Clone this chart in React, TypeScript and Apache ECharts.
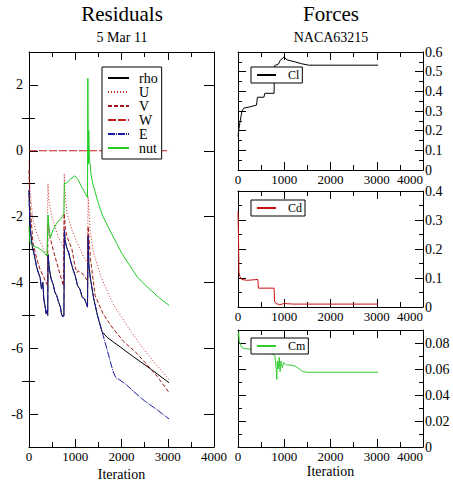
import React, { useEffect, useRef } from "react";
import * as echarts from "echarts";

type P = [number, number];

const FONT = "'Liberation Serif', 'Times New Roman', serif";

const residualNames = ["rho", "U", "V", "W", "E", "nut"];
const xTicks = [0, 1000, 2000, 3000, 4000];
const residualMajorTicks = [-8, -6, -4, -2, 0, 2];
const residualMinorTicks = [-7, -5, -3, -1, 1];

// E residual (blue)
const E: P[] = [
  [0, -1.2], [8, -1.7], [30, -2.4], [60, -2.8], [86, -3.0], [120, -3.2], [160, -3.5],
  [200, -3.7], [240, -3.85], [270, -4.2], [300, -4.0], [320, -4.5], [350, -4.75],
  [370, -4.95], [390, -4.85], [405, -5.0], [412, -3.15], [440, -3.6], [480, -3.9],
  [520, -4.05], [560, -4.3], [600, -4.4], [640, -4.6], [680, -4.75], [700, -4.95],
  [730, -5.05], [755, -5.0], [765, -2.4], [780, -2.7], [800, -2.85], [830, -3.0],
  [860, -3.1], [900, -3.35], [950, -3.6], [1000, -3.8], [1050, -4.1], [1100, -4.2],
  [1150, -4.45], [1200, -4.5], [1240, -4.65], [1265, -4.75], [1278, -2.6], [1295, -3.5],
  [1330, -3.9], [1400, -4.5], [1480, -5.0], [1580, -5.5], [1700, -6.1], [1816, -6.7],
  [1880, -6.9], [1950, -6.95], [2000, -7.0], [2100, -7.1], [2250, -7.3], [2500, -7.6],
  [2750, -7.85], [3030, -8.15],
];
// rho follows E until it separates
const rhoTail: P[] = [
  [1580, -5.5], [1690, -5.67], [1816, -5.8], [2250, -6.25], [2650, -6.65], [3030, -7.05],
];
const rho: P[] = [...E.filter((p) => p[0] < 1580), ...rhoTail];

const U: P[] = [
  [0, -0.3], [10, -0.8], [22, -1.2], [50, -1.6], [86, -2.1], [150, -2.45], [238, -2.75],
  [320, -3.0], [389, -3.2], [410, -1.0], [430, -1.5], [497, -2.0], [560, -2.3], [627, -2.6],
  [735, -2.9], [755, -2.95], [762, -0.7], [780, -1.3], [820, -1.9], [950, -2.5],
  [1170, -3.2], [1265, -3.4], [1278, -1.4], [1320, -2.4], [1380, -3.0], [1450, -3.35],
  [1550, -3.8], [1700, -4.3], [1816, -4.65], [2000, -5.05], [2160, -5.4], [2465, -6.0],
  [2750, -6.5], [3030, -6.95],
];

const V: P[] = [
  [0, -0.6], [10, -1.2], [22, -1.65], [86, -2.8], [170, -3.3], [240, -3.6], [320, -3.85],
  [400, -4.1], [410, -2.2], [450, -2.6], [520, -3.0], [600, -3.4], [680, -3.8],
  [745, -4.1], [760, -1.9], [790, -2.4], [820, -2.6], [930, -3.0], [1000, -3.55],
  [1040, -3.7], [1060, -3.65], [1170, -3.75], [1265, -3.95], [1278, -2.3], [1330, -3.3],
  [1430, -4.4], [1600, -4.95], [1816, -5.4], [2050, -5.8], [2330, -6.15], [2770, -6.85],
  [3030, -7.35],
];

const W: P[] = [[0, 0], [3030, 0]];

const nut: P[] = [
  [0, -2.3], [10, -2.6], [25, -2.8], [100, -2.9], [195, -2.95], [300, -3.05], [390, -3.2],
  [412, -1.95], [430, -2.3], [460, -2.65], [520, -2.4], [600, -2.2], [700, -2.05],
  [755, -1.9], [765, -0.97], [800, -1.0], [880, -0.88], [990, -0.76], [1060, -0.88],
  [1170, -1.18], [1265, -1.42], [1272, 2.2], [1282, -0.4], [1292, 0.62], [1305, -0.2],
  [1340, -0.7], [1380, -1.0], [1420, -1.2], [1500, -1.6], [1600, -2.0], [1816, -2.6],
  [2000, -3.1], [2160, -3.45], [2350, -3.85], [2530, -4.1], [2800, -4.45], [3030, -4.7],
];

const Cl: P[] = [
  [0, 0.17], [10, 0.19], [20, 0.21], [40, 0.24], [86, 0.3], [130, 0.315], [238, 0.32],
  [400, 0.33], [420, 0.37], [560, 0.37], [580, 0.39], [780, 0.39], [790, 0.53],
  [880, 0.54], [910, 0.557], [995, 0.575], [1060, 0.56], [1230, 0.55], [1380, 0.54],
  [1530, 0.533], [3030, 0.533],
];

const Cd: P[] = [
  [0, 0.33], [10, 0.25], [20, 0.12], [40, 0.105], [80, 0.095], [200, 0.092], [430, 0.095],
  [440, 0.065], [780, 0.065], [790, 0.02], [820, 0.012], [900, 0.008], [1000, 0.012],
  [1200, 0.01], [1500, 0.01], [3030, 0.01],
];

const Cm: P[] = [
  [0, 0.085], [15, 0.088], [25, 0.082], [60, 0.078], [100, 0.076], [300, 0.075],
  [600, 0.073], [780, 0.071], [800, 0.07], [820, 0.062], [840, 0.052], [850, 0.066],
  [870, 0.06], [890, 0.069], [910, 0.058], [930, 0.066], [960, 0.061], [990, 0.065],
  [1050, 0.063], [1150, 0.063], [1250, 0.062], [1330, 0.06], [1400, 0.058], [1500, 0.0575],
  [3030, 0.0575],
];

const black = "#000";
const txt = { fontFamily: FONT, color: black };

function xAxisPair(gridIndex: number, name?: string, maxRight = false) {
  const base = {
    type: "value",
    gridIndex,
    min: xTicks[0],
    max: xTicks[xTicks.length - 1],
    interval: 1000,
    axisLine: { show: true, onZero: false, lineStyle: { color: black, width: 1 } },
    axisTick: { show: true, inside: true, length: 8, lineStyle: { color: black } },
    minorTick: { show: true, splitNumber: 2, length: 5, lineStyle: { color: black } },
    splitLine: { show: false },
    minorSplitLine: { show: false },
  };
  return [
    {
      ...base,
      position: "bottom",
      axisLabel: {
        ...txt,
        fontSize: 13,
        lineHeight: 11,
        margin: 4,
        formatter: (v: number) => String(v),
        ...(maxRight ? { alignMaxLabel: "right" } : {}),
      },
      name: name || "",
      nameLocation: "middle",
      nameGap: 17,
      nameTextStyle: { ...txt, fontSize: 14 },
    },
    { ...base, position: "top", axisLabel: { show: false } },
  ];
}

function forceYAxes(gridIndex: number, max: number, interval: number, hideMax: boolean) {
  const base = {
    type: "value",
    gridIndex,
    min: 0,
    max,
    interval,
    axisLine: { show: true, onZero: false, lineStyle: { color: black, width: 1 } },
    axisTick: { show: true, inside: true, length: 8, lineStyle: { color: black } },
    minorTick: { show: true, splitNumber: 2, length: 4, lineStyle: { color: black } },
    splitLine: { show: false },
    minorSplitLine: { show: false },
  };
  return [
    {
      ...base,
      position: "right",
      axisLabel: { ...txt, fontSize: 14, margin: 2, showMaxLabel: !hideMax, hideOverlap: false },
    },
    { ...base, position: "left", axisLabel: { show: false } },
  ];
}

function residualYAxes() {
  const base = {
    type: "value",
    gridIndex: 0,
    min: -9,
    max: 3,
    interval: 1,
    splitLine: { show: false },
    minorTick: { show: false },
  };
  return [
    {
      ...base,
      position: "left",
      axisLine: { show: true, onZero: false, lineStyle: { color: black, width: 1 } },
      axisTick: { show: true, inside: true, length: 9, customValues: residualMajorTicks, lineStyle: { color: black } },
      axisLabel: {
        ...txt,
        fontSize: 14,
        margin: 6,
        customValues: residualMajorTicks,
        formatter: (v: number) => (Math.round(v) % 2 === 0 ? String(v) : ""),
      },
    },
    {
      ...base,
      position: "left",
      axisLine: { show: false },
      axisTick: { show: true, inside: true, length: 6, customValues: residualMinorTicks, lineStyle: { color: black } },
      axisLabel: { show: false },
    },
    {
      ...base,
      position: "right",
      axisLine: { show: true, onZero: false, lineStyle: { color: black, width: 1 } },
      axisTick: { show: true, inside: true, length: 10, customValues: residualMajorTicks, lineStyle: { color: black } },
      axisLabel: { show: false },
    },
    {
      ...base,
      position: "right",
      axisLine: { show: false },
      axisTick: { show: true, inside: true, length: 7, customValues: residualMinorTicks, lineStyle: { color: black } },
      axisLabel: { show: false },
    },
  ];
}

function line(name: string, data: P[], color: string, type: any, xi: number, yi: number, z = 2) {
  return {
    type: "line",
    name,
    data,
    xAxisIndex: xi,
    yAxisIndex: yi,
    showSymbol: false,
    symbol: "none",
    legendIcon: "none",
    z,
    lineStyle: { color, width: 1, type },
    itemStyle: { color },
    emphasis: { disabled: true },
  };
}

const legendCommon = {
  orient: "vertical",
  itemGap: 0,
  itemHeight: 8,
  borderColor: black,
  borderWidth: 1,
  backgroundColor: "#fff",
  selectedMode: false,
  z: 10,
  itemStyle: { opacity: 0, borderWidth: 0 },
};

function smallLegend(name: string, top: number) {
  return {
    ...legendCommon,
    data: [name],
    left: 251,
    top,
    padding: [2, 3, 2, 5],
    itemWidth: 19,
    textStyle: { ...txt, fontSize: 12, lineHeight: 12, padding: [0, 0, 0, 7] },
  };
}

const option: any = {
  animation: false,
  backgroundColor: "#fff",
  title: [
    {
      text: "Residuals",
      subtext: "5 Mar 11",
      left: 122,
      top: 3,
      textAlign: "center",
      padding: 0,
      itemGap: 6,
      textStyle: { ...txt, fontSize: 21, fontWeight: "normal" },
      subtextStyle: { ...txt, fontSize: 14 },
    },
    {
      text: "Forces",
      subtext: "NACA63215",
      left: 331,
      top: 3,
      textAlign: "center",
      padding: 0,
      itemGap: 6,
      textStyle: { ...txt, fontSize: 21, fontWeight: "normal" },
      subtextStyle: { ...txt, fontSize: 14 },
    },
  ],
  legend: [
    {
      ...legendCommon,
      data: residualNames,
      left: 102,
      top: 67,
      padding: [4, 4, 4, 5],
      itemWidth: 21,
      textStyle: { ...txt, fontSize: 14, lineHeight: 14, padding: [0, 0, 0, 5] },
    },
    smallLegend("Cl", 67),
    smallLegend("Cd", 200),
    smallLegend("Cm", 338),
  ],
  grid: [
    { left: 29, top: 52, width: 185, height: 395, outerBoundsMode: "none", containLabel: false },
    { left: 238, top: 52, width: 185, height: 118, outerBoundsMode: "none", containLabel: false },
    { left: 238, top: 191, width: 185, height: 116, outerBoundsMode: "none", containLabel: false },
    { left: 238, top: 330, width: 185, height: 117, outerBoundsMode: "none", containLabel: false },
  ],
  xAxis: [
    ...xAxisPair(0, "Iteration"),
    ...xAxisPair(1, "", true),
    ...xAxisPair(2, "", true),
    ...xAxisPair(3, "Iteration", true),
  ],
  yAxis: [
    ...residualYAxes(),
    ...forceYAxes(1, 0.6, 0.1, false),
    ...forceYAxes(2, 0.4, 0.1, false),
    ...forceYAxes(3, 0.09, 0.02, true),
  ],
  series: [
    line("rho", rho, "#000000", "solid", 0, 0, 2),
    line("U", U, "#c83030", [1, 2], 0, 0, 3),
    line("V", V, "#a01818", [4, 2], 0, 0, 3),
    line("W", W, "#c41c1c", [8, 2], 0, 0, 3),
    line("E", E, "#1a1aa6", [7, 1, 1, 1], 0, 0, 4),
    line("nut", nut, "#22cc22", "solid", 0, 0, 5),
    line("Cl", Cl, "#000000", "solid", 2, 4),
    line("Cd", Cd, "#cc1111", "solid", 4, 6),
    line("Cm", Cm, "#33cc33", "solid", 6, 8),
  ],
};

export default function App() {
  const ref = useRef<HTMLDivElement>(null);
  useEffect(() => {
    if (!ref.current) return;
    const chart = echarts.init(ref.current, null, { renderer: "svg" });
    chart.setOption(option);
    return () => chart.dispose();
  }, []);
  return (
    <div
      ref={ref}
      style={{ position: "fixed", left: 0, top: 0, width: 453, height: 483, background: "#fff" }}
    />
  );
}
